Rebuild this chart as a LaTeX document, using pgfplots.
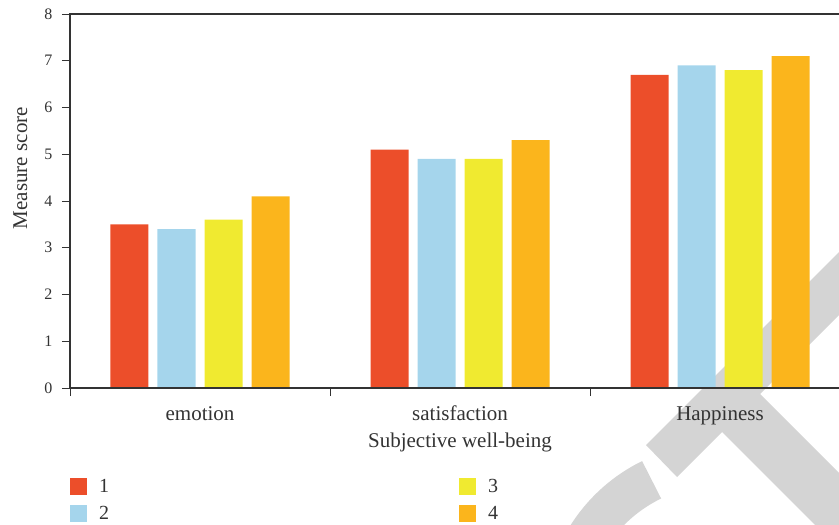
\documentclass[border=0pt]{standalone}
\usepackage{fontspec}
\setmainfont{Liberation Serif}
\usepackage{pgfplots}
\pgfplotsset{compat=1.18}
\definecolor{cRed}{HTML}{EC4E2A}
\definecolor{cBlue}{HTML}{A5D5EC}
\definecolor{cYellow}{HTML}{F0EA30}
\definecolor{cOrange}{HTML}{FBB51C}
\definecolor{axiscol}{HTML}{333333}
\definecolor{wm}{HTML}{D4D4D4}

\begin{document}
\begin{tikzpicture}
% watermark behind the chart
\fill[wm] (576bp,-57bp) -- (830bp,197bp) -- (830bp,134bp) -- (690bp,-6bp) -- (830bp,-146bp)
   -- (830bp,-222bp) -- (652bp,-44bp) -- (607bp,-89bp) -- cycle;
\draw[wm, line width=42bp] (650bp,-232bp) ++(116:156bp) arc[start angle=116, end angle=215, radius=156bp];

\begin{axis}[
   at={(0,0)}, anchor=south west,
   scale only axis, width=780bp, height=374bp,
   xmin=-0.5, xmax=2.5, ymin=0, ymax=8,
   axis on top,
   axis line style={axiscol, line width=1.2bp},
   ybar=9bp, bar width=38bp,
   xtick={-0.5,0.5,1.5,2.5}, xticklabels={},
   extra x ticks={0,1,2},
   extra x tick labels={emotion,satisfaction,Happiness},
   extra x tick style={major tick length=0pt},
   ytick={0,1,...,8},
   tick align=outside, xtick pos=bottom, ytick pos=left,
   major tick length=8bp,
   tick style={axiscol, line width=0.9bp},
   /pgf/number format/assume math mode=true,
   yticklabel style={font=\fontsize{16bp}{19bp}\selectfont, text=axiscol, anchor=east, xshift=-6bp},
   xticklabel style={font=\fontsize{21bp}{25bp}\selectfont, text=axiscol, anchor=base, yshift=-32bp},
   xlabel={Subjective well-being},
   xlabel style={at={(axis description cs:0.5,-0.1578)}, anchor=base, font=\fontsize{21bp}{25bp}\selectfont, text=axiscol},
   ylabel={Measure score},
   ylabel style={at={(axis description cs:-0.0551,0.588)}, anchor=base, font=\fontsize{21bp}{25bp}\selectfont, text=axiscol},
   legend columns=2, transpose legend,
   legend style={at={(axis description cs:0,-0.238)}, anchor=north west, draw=none, fill=none,
      inner sep=0pt, row sep=8bp, font=\fontsize{20bp}{24bp}\selectfont, text=axiscol, cells={anchor=west}},
   legend image code/.code={\fill[#1] (0bp,-8.5bp) rectangle (17bp,8.5bp);},
]
\addplot[fill=cRed, draw=none] coordinates {(0,3.5) (1,5.1) (2,6.7)};
\addlegendentry{\makebox[368bp][l]{\hspace*{10bp}1}}
\addplot[fill=cBlue, draw=none] coordinates {(0,3.4) (1,4.9) (2,6.9)};
\addlegendentry{\makebox[368bp][l]{\hspace*{10bp}2}}
\addplot[fill=cYellow, draw=none] coordinates {(0,3.6) (1,4.9) (2,6.8)};
\addlegendentry{\hspace*{10bp}3}
\addplot[fill=cOrange, draw=none] coordinates {(0,4.1) (1,5.3) (2,7.1)};
\addlegendentry{\hspace*{10bp}4}
\end{axis}
\pgfresetboundingbox
\useasboundingbox (-70bp,-137bp) rectangle (769bp,388bp);
\end{tikzpicture}
\end{document}
